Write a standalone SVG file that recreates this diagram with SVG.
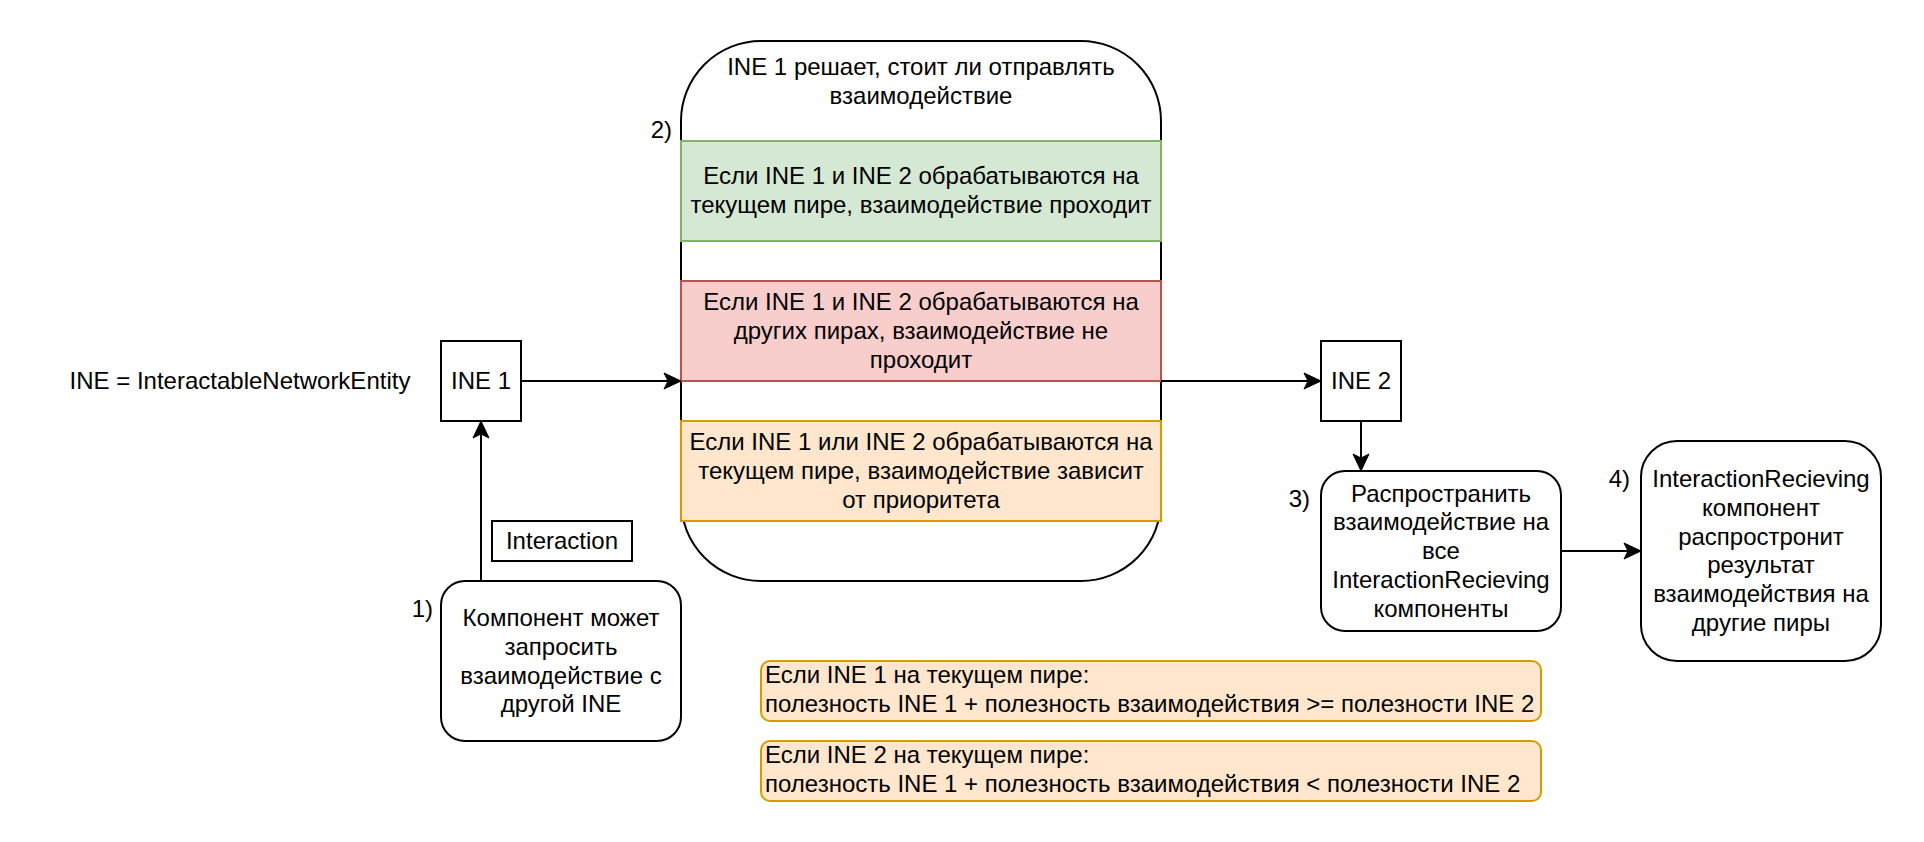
<svg xmlns="http://www.w3.org/2000/svg" width="1924" height="842" viewBox="0 0 1924 842">
<defs>
<style>
text{font-family:"Liberation Sans",Arial,sans-serif;font-size:24px;fill:#000}
.c{text-anchor:middle}
.r{text-anchor:end}
.box{fill:#fff;stroke:#000;stroke-width:2}
.green{fill:#d5e8d4;stroke:#82b366;stroke-width:2}
.red{fill:#f8cecc;stroke:#b85450;stroke-width:2}
.orange{fill:#ffe6cc;stroke:#d79b00;stroke-width:2}
.edge{fill:none;stroke:#000;stroke-width:2;marker-end:url(#arrow)}
</style>
<marker id="arrow" viewBox="-20 -10 22 20" markerWidth="22" markerHeight="20" refX="-3" refY="0" orient="auto" markerUnits="userSpaceOnUse">
<path d="M0,0 L-17,-8 L-13,0 L-17,8 Z" fill="#000" stroke="#000" stroke-width="1" stroke-linejoin="miter"/>
</marker>
</defs>
<rect width="1924" height="842" fill="#fff"/>

<g id="legend">
<text class="c" x="240" y="389">INE = InteractableNetworkEntity</text>
</g>

<g id="ine1">
<rect class="box" x="441" y="341" width="80" height="80"/>
<text class="c" x="481" y="389">INE 1</text>
</g>

<g id="ine2">
<rect class="box" x="1321" y="341" width="80" height="80"/>
<text class="c" x="1361" y="389">INE 2</text>
</g>

<g id="decision">
<rect class="box" x="681" y="41" width="480" height="540" rx="80" ry="80"/>
<text class="c" x="921" y="75">INE 1 решает, стоит ли отправлять</text>
<text class="c" x="921" y="104">взаимодействие</text>
<text class="r" x="672" y="138">2)</text>
</g>

<g id="case-green">
<rect class="green" x="681" y="141" width="480" height="100"/>
<text class="c" x="921" y="184">Если INE 1 и INE 2 обрабатываются на</text>
<text class="c" x="921" y="213">текущем пире, взаимодействие проходит</text>
</g>

<g id="case-red">
<rect class="red" x="681" y="281" width="480" height="100"/>
<text class="c" x="921" y="310">Если INE 1 и INE 2 обрабатываются на</text>
<text class="c" x="921" y="339">других пирах, взаимодействие не</text>
<text class="c" x="921" y="368">проходит</text>
</g>

<g id="case-orange">
<rect class="orange" x="681" y="421" width="480" height="100"/>
<text class="c" x="921" y="450">Если INE 1 или INE 2 обрабатываются на</text>
<text class="c" x="921" y="479">текущем пире, взаимодействие зависит</text>
<text class="c" x="921" y="508">от приоритета</text>
</g>

<g id="component">
<rect class="box" x="441" y="581" width="240" height="160" rx="24" ry="24"/>
<text class="c" x="561" y="626">Компонент может</text>
<text class="c" x="561" y="655">запросить</text>
<text class="c" x="561" y="684">взаимодействие с</text>
<text class="c" x="561" y="712">другой INE</text>
<text class="r" x="433" y="617">1)</text>
</g>

<g id="interaction-label">
<rect class="box" x="492" y="521" width="140" height="40"/>
<text class="c" x="562" y="549">Interaction</text>
</g>

<g id="propagate">
<rect class="box" x="1321" y="471" width="240" height="160" rx="24" ry="24"/>
<text class="c" x="1441" y="502">Распространить</text>
<text class="c" x="1441" y="530">взаимодействие на</text>
<text class="c" x="1441" y="559">все</text>
<text class="c" x="1441" y="588">InteractionRecieving</text>
<text class="c" x="1441" y="617">компоненты</text>
<text class="r" x="1310" y="507">3)</text>
</g>

<g id="receiving">
<rect class="box" x="1641" y="441" width="240" height="220" rx="36" ry="36"/>
<text class="c" x="1761" y="487">InteractionRecieving</text>
<text class="c" x="1761" y="516">компонент</text>
<text class="c" x="1761" y="545">распростронит</text>
<text class="c" x="1761" y="573">результат</text>
<text class="c" x="1761" y="602">взаимодействия на</text>
<text class="c" x="1761" y="631">другие пиры</text>
<text class="r" x="1630" y="487">4)</text>
</g>

<g id="note1">
<rect class="orange" x="761" y="661" width="780" height="60" rx="9" ry="9"/>
<text x="765" y="683">Если INE 1 на текущем пире:</text>
<text x="765" y="712">полезность INE 1 + полезность взаимодействия &gt;= полезности INE 2</text>
</g>

<g id="note2">
<rect class="orange" x="761" y="741" width="780" height="60" rx="9" ry="9"/>
<text x="765" y="763">Если INE 2 на текущем пире:</text>
<text x="765" y="792">полезность INE 1 + полезность взаимодействия &lt; полезности INE 2</text>
</g>

<g id="connectors">
<path class="edge" d="M521,381 L678,381"/>
<path class="edge" d="M1161,381 L1318,381"/>
<path class="edge" d="M1361,421 L1361,468"/>
<path class="edge" d="M1561,551 L1638,551"/>
<path class="edge" d="M481,581 L481,424"/>
</g>
</svg>
